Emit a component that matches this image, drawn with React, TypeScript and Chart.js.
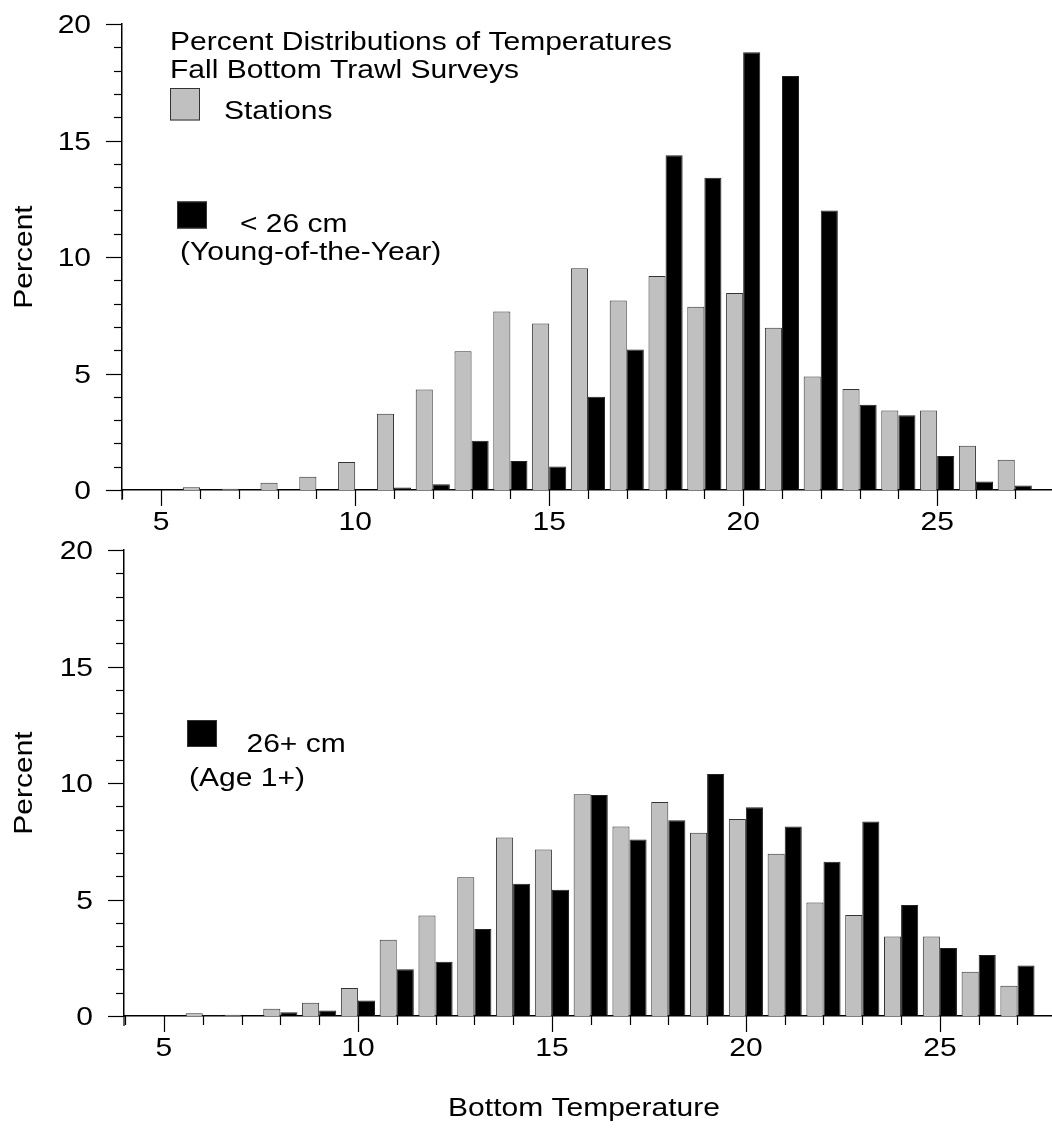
import React, { useEffect, useRef } from "react";
import { Chart, registerables } from "chart.js";

Chart.register(...registerables);

// ---------- data ----------
const temps = [6, 7, 8, 9, 10, 11, 12, 13, 14, 15, 16, 17, 18, 19, 20, 21, 22, 23, 24, 25, 26, 27];
const stations = [0.12, 0.05, 0.31, 0.57, 1.2, 3.27, 4.31, 5.96, 7.66, 7.15, 9.52, 8.13, 9.18, 7.87, 8.46, 6.96, 4.87, 4.34, 3.41, 3.41, 1.9, 1.3];
const youngOfYear = [0, 0, 0, 0, 0, 0.11, 0.25, 2.11, 1.24, 1.01, 4.0, 6.03, 14.37, 13.4, 18.79, 17.77, 12.0, 3.66, 3.21, 1.46, 0.36, 0.19];
const age1Plus = [0.04, 0, 0.16, 0.24, 0.66, 2.01, 2.33, 3.73, 5.68, 5.42, 9.48, 7.58, 8.4, 10.39, 8.96, 8.13, 6.62, 8.35, 4.76, 2.92, 2.62, 2.17];
const xTicks = [4, 5, 6, 7, 8, 9, 10, 11, 12, 13, 14, 15, 16, 17, 18, 19, 20, 21, 22, 23, 24, 25, 26, 27];
const yTicks = [0, 1, 2, 3, 4, 5, 6, 7, 8, 9, 10, 11, 12, 13, 14, 15, 16, 17, 18, 19, 20];
const titleLines = ["Percent Distributions of Temperatures", "Fall Bottom Trawl Surveys"];
const stationsLabel = "Stations";
const yoyLabel = ["< 26 cm", "(Young-of-the-Year)"];
const ageLabel = ["26+ cm", "(Age 1+)"];
const yTitle = "Percent";
const xTitle = "Bottom Temperature";

const W = 1052;
const H = 1133;
const FONT = '25px "Liberation Sans", Arial, Helvetica, sans-serif';
const SX = 1.2;
const GRAY = "#c0c0c0";

function drawText(ctx: CanvasRenderingContext2D, text: string, x: number, y: number, align: CanvasTextAlign, rot = 0) {
  ctx.save();
  ctx.translate(x, y);
  if (rot) ctx.rotate(rot);
  ctx.scale(SX, 1);
  ctx.font = FONT;
  ctx.fillStyle = "#000";
  ctx.textAlign = align;
  ctx.textBaseline = "alphabetic";
  ctx.fillText(text, 0, 0);
  ctx.restore();
}

function line(ctx: CanvasRenderingContext2D, x1: number, y1: number, x2: number, y2: number) {
  ctx.beginPath();
  ctx.moveTo(x1, y1);
  ctx.lineTo(x2, y2);
  ctx.stroke();
}

type TextItem = { t: string; x: number; y: number; align: CanvasTextAlign };
type BoxItem = { x: number; y: number; w: number; h: number; fill: string };

const overlay = {
  id: "overlay",
  afterDraw(chart: any, _args: any, opts: any) {
    const ctx: CanvasRenderingContext2D = chart.ctx;
    const xs = chart.scales.x;
    const ys = chart.scales.y;
    const area = chart.chartArea;
    ctx.save();
    ctx.strokeStyle = "#000";
    ctx.lineWidth = 1.2;
    // y axis extension below x axis
    line(ctx, area.left, area.bottom, area.left, area.bottom + 10);
    xTicks.forEach((v) => {
      const px = Math.round(xs.getPixelForValue(v)) + 0.5;
      const len = v % 5 === 0 ? 16 : 9;
      line(ctx, px, area.bottom, px, area.bottom + len);
    });
    yTicks.forEach((v) => {
      const py = Math.round(ys.getPixelForValue(v)) + 0.5;
      const len = v % 5 === 0 ? 16 : 8;
      line(ctx, area.left - len, py, area.left, py);
    });
    ctx.restore();

    xTicks.filter((v) => v % 5 === 0).forEach((v) => {
      drawText(ctx, String(v), xs.getPixelForValue(v), area.bottom + 40, "center");
    });
    yTicks.filter((v) => v % 5 === 0).forEach((v) => {
      drawText(ctx, String(v), area.left - 31, ys.getPixelForValue(v) + 9, "right");
    });
    drawText(ctx, yTitle, 32, (area.top + area.bottom) / 2, "center", -Math.PI / 2);

    (opts.boxes as BoxItem[]).forEach((b) => {
      ctx.save();
      ctx.fillStyle = b.fill;
      ctx.fillRect(b.x, b.y, b.w, b.h);
      ctx.strokeStyle = "#333";
      ctx.lineWidth = 1;
      ctx.strokeRect(b.x + 0.5, b.y + 0.5, b.w - 1, b.h - 1);
      ctx.restore();
    });
    (opts.texts as TextItem[]).forEach((t) => drawText(ctx, t.t, t.x, t.y, t.align));
  },
};

type Panel = {
  series: number[];
  top: number;
  bottom: number;
  left: number;
  xMin: number;
  xMax: number;
  texts: TextItem[];
  boxes: BoxItem[];
};

const topPanel: Panel = {
  series: youngOfYear,
  top: 24,
  bottom: 490,
  left: 122,
  xMin: 3.99,
  xMax: 27.96,
  texts: [
    { t: titleLines[0], x: 170, y: 50, align: "left" },
    { t: titleLines[1], x: 170, y: 77.5, align: "left" },
    { t: stationsLabel, x: 224, y: 119, align: "left" },
    { t: yoyLabel[0], x: 240, y: 231.5, align: "left" },
    { t: yoyLabel[1], x: 180, y: 259.5, align: "left" },
  ],
  boxes: [
    { x: 170, y: 88, w: 30, h: 32.5, fill: GRAY },
    { x: 177, y: 201.5, w: 30, h: 27, fill: "#000" },
  ],
};

const bottomPanel: Panel = {
  series: age1Plus,
  top: 550,
  bottom: 1016,
  left: 124,
  xMin: 3.97,
  xMax: 27.89,
  texts: [
    { t: ageLabel[0], x: 246.5, y: 751.5, align: "left" },
    { t: ageLabel[1], x: 189, y: 786, align: "left" },
    { t: xTitle, x: 584, y: 1116, align: "center" },
  ],
  boxes: [{ x: 187, y: 720, w: 30, h: 27, fill: "#000" }],
};

function makeChart(canvas: HTMLCanvasElement, p: Panel) {
  const xH = 40;
  return new Chart(canvas, {
    type: "bar",
    data: {
      datasets: [
        {
          label: stationsLabel,
          data: temps.map((t, i) => ({ x: t, y: stations[i] })),
          backgroundColor: GRAY,
          borderColor: "#333",
          borderWidth: 1,
        },
        {
          label: p === topPanel ? yoyLabel[0] : ageLabel[0],
          data: temps.map((t, i) => ({ x: t, y: p.series[i] })),
          backgroundColor: "#000",
          borderColor: "#222",
          borderWidth: 1,
        },
      ],
    },
    options: {
      responsive: false,
      animation: false,
      devicePixelRatio: 1,
      categoryPercentage: 0.88,
      barPercentage: 1,
      layout: { padding: { top: p.top, bottom: H - p.bottom - xH, left: 0, right: 0 } },
      plugins: {
        legend: { display: false },
        tooltip: { enabled: false },
        overlay: { texts: p.texts, boxes: p.boxes },
      } as any,
      scales: {
        x: {
          type: "linear",
          min: p.xMin,
          max: p.xMax,
          offset: false,
          grid: { display: false, drawTicks: false },
          border: { display: true, color: "#000", width: 1.5 },
          ticks: { display: false },
          afterFit: (s: any) => {
            s.height = xH;
          },
          afterBuildTicks: (s: any) => {
            s.ticks = xTicks.map((v) => ({ value: v }));
          },
        },
        y: {
          type: "linear",
          min: 0,
          max: 20,
          grid: { display: false, drawTicks: false },
          border: { display: true, color: "#000", width: 1.5 },
          ticks: { display: false },
          afterFit: (s: any) => {
            s.width = p.left;
          },
          afterBuildTicks: (s: any) => {
            s.ticks = yTicks.map((v) => ({ value: v }));
          },
        },
      },
    } as any,
    plugins: [overlay as any],
  });
}

export default function App() {
  const topRef = useRef<HTMLCanvasElement>(null);
  const botRef = useRef<HTMLCanvasElement>(null);
  useEffect(() => {
    const c1 = makeChart(topRef.current!, topPanel);
    const c2 = makeChart(botRef.current!, bottomPanel);
    return () => {
      c1.destroy();
      c2.destroy();
    };
  }, []);
  const cs: React.CSSProperties = { position: "absolute", left: 0, top: 0, width: W, height: H, display: "block" };
  return (
    <div style={{ position: "absolute", left: 0, top: 0, width: W, height: H, background: "#fff", overflow: "hidden" }}>
      <canvas ref={topRef} width={W} height={H} style={cs} />
      <canvas ref={botRef} width={W} height={H} style={cs} />
    </div>
  );
}
